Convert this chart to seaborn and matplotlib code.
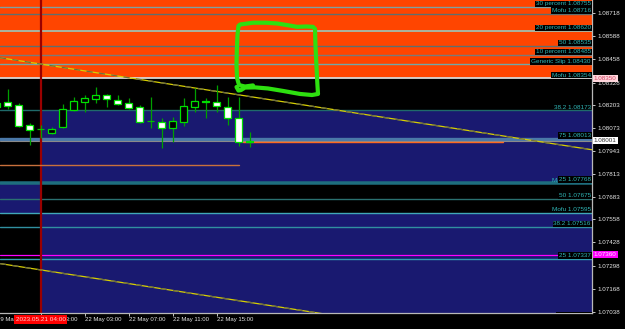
import matplotlib
matplotlib.use("Agg")
import matplotlib.pyplot as plt
from matplotlib.transforms import blended_transform_factory as btf
import numpy as np
import pandas as pd
import seaborn as sns

# ---------------- data ----------------
bar_index = list(range(-4, 20))
opens  = [1.08213, 1.08219, 1.08202, 1.08087, 1.08066, 1.08046, 1.08076, 1.08174, 1.08220, 1.08237,
          1.08256, 1.08230, 1.08211, 1.08188, 1.08110, 1.08106, 1.08071, 1.08104, 1.08193, 1.08226,
          1.08221, 1.08193, 1.08126, 1.07992]
highs  = [1.08224, 1.08292, 1.08211, 1.08100, 1.08089, 1.08080, 1.08206, 1.08247, 1.08258, 1.08305,
          1.08262, 1.08258, 1.08239, 1.08202, 1.08247, 1.08131, 1.08133, 1.08239, 1.08296, 1.08239,
          1.08316, 1.08247, 1.08249, 1.08050]
lows   = [1.08174, 1.08179, 1.08080, 1.07977, 1.08016, 1.08038, 1.08071, 1.08168, 1.08164, 1.08211,
          1.08192, 1.08202, 1.08178, 1.08099, 1.08075, 1.07958, 1.07991, 1.08085, 1.08162, 1.08127,
          1.08164, 1.08089, 1.07971, 1.07965]
closes = [1.08190, 1.08196, 1.08085, 1.08063, 1.08065, 1.08065, 1.08178, 1.08224, 1.08239, 1.08256,
          1.08234, 1.08209, 1.08187, 1.08104, 1.08110, 1.08071, 1.08111, 1.08194, 1.08223, 1.08217,
          1.08196, 1.08126, 1.07991, 1.08001]

time_tick_pos = [-4, 0, 4, 8, 12, 16]
time_tick_labels = ["19 May 20:00", "21 May 23:00", "22 May 03:00", "22 May 07:00",
                    "22 May 11:00", "22 May 15:00"]
crosshair_label = "2023.05.21 04:00"

price_tick_labels = ["1.08718", "1.08588", "1.08458", "1.08328", "1.08203", "1.08073", "1.07943",
                     "1.07813", "1.07683", "1.07558", "1.07428", "1.07298", "1.07168", "1.07038"]

level_names  = ["30 percent", "Mofu", "20 percent", "50", "10 percent", "Generic Slip", "Mofu",
                "38.2", "75", "Mofu", "25", "50", "Mofu", "38.2", "25", "0.0"]
level_prices = [1.08755, 1.08716, 1.08620, 1.08535, 1.08485, 1.08430, 1.08354,
                1.08173, 1.08013, 1.07760, 1.07768, 1.07675, 1.07595, 1.07516, 1.07337, 1.07000]

bid_price = 1.08001
ask_box_price = 1.08350
magenta_price = 1.07360

# zone rectangles: (x_start, x_end, price_low, price_high)
zone_orange = (-3.7, 50.2, 1.08354, 1.08800)
zones_navy = [(0, 50.2, 1.07768, 1.08173), (0, 50.2, 1.07000, 1.07595), (-3.7, 0, 1.07595, 1.07768)]

trend_upper_x = [-3.7, 50.1]
trend_upper_y = [1.08468, 1.07950]
trend_lower_x = [-3.7, 50.1]
trend_lower_y = [1.07309, 1.06791]

orange_seg1_x = [-3.7, 18.05]
orange_seg1_y = [1.07864, 1.07864]
orange_seg2_x = [18.4, 42.0]
orange_seg2_y = [1.07992, 1.07992]

sketch_x = [19.30, 18.57, 18.03, 17.85, 17.80, 17.83, 17.89, 17.98, 18.12, 19.30, 20.48, 21.48,
            22.66, 23.30, 24.12, 24.75, 24.94, 24.98, 25.07, 25.16, 25.21, 24.66, 23.57, 22.03,
            20.66, 19.48, 18.57, 18.21, 17.98, 17.80]
sketch_y = [1.08312, 1.08306, 1.08314, 1.08354, 1.08427, 1.08511, 1.08596, 1.08647, 1.08655,
            1.08665, 1.08665, 1.08661, 1.08649, 1.08642, 1.08644, 1.08642, 1.08630, 1.08540,
            1.08421, 1.08314, 1.08264, 1.08258, 1.08264, 1.08281, 1.08295, 1.08301, 1.08300,
            1.08286, 1.08283, 1.08303]

XLIM = (-3.7, 50.12)
YLIM = (1.07029, 1.08793)

# ---------------- style ----------------
sns.set_theme(style="dark")
plt.rcParams["font.family"] = ["Liberation Sans", "DejaVu Sans"]

W, H = 625, 329
fig = plt.figure(figsize=(W / 100, H / 100), dpi=100, facecolor="black")
ax = fig.add_axes([0, (H - 313.3) / H, 592 / W, 313.3 / H])
ax.set_facecolor("black")
ax.set_xlim(*XLIM)
ax.set_ylim(*YLIM)

# zones
x0, x1, lo, hi = zone_orange
ax.fill_between([x0, x1], lo, hi, color="#ff4500", lw=0, zorder=0)
for (x0, x1, lo, hi) in zones_navy:
    ax.fill_between([x0, x1], lo, hi, color="#191970", lw=0, zorder=0)

# level lines
level_colors = ["#7fa0a0", "#5f6f6f", "#a8b4a0", "#5f6f6f", "#7a7a7a", "#70a8a8", "#d8d8d8",
                "#1f6a6a", "#4a78a8", "#1e6e7e", "#1e6e7e", "#2a7070", "#40a8b8", "#3090a0",
                "#30a0b0", "#30a0b0"]
level_widths = [1.0, 1.0, 1.4, 1.0, 1.0, 1.0, 1.3, 1.0, 2.4, 1.8, 1.8, 1.0, 1.0, 1.0, 1.0, 1.0]
for p, c, w in zip(level_prices, level_colors, level_widths):
    ax.axhline(p, color=c, lw=w, zorder=1)
ax.axhline(bid_price, color="#8a8a8a", lw=0.8, zorder=1)
ax.axhline(magenta_price, color="#ff00ff", lw=0.9, zorder=1)

# red vertical line
ax.axvline(0, color="#9a0000", lw=1.6, zorder=2)

# trend lines (seaborn)
for tx, ty in [(trend_upper_x, trend_upper_y), (trend_lower_x, trend_lower_y)]:
    df = pd.DataFrame({"t": tx, "p": ty})
    sns.lineplot(data=df, x="t", y="p", ax=ax, color="#d8d000", lw=0.9, zorder=2, legend=False)
    ax.plot(tx, ty, color="#6e6e40", lw=0.9, dashes=(5, 5), zorder=2)

# orange segments
sns.lineplot(x=orange_seg1_x, y=orange_seg1_y, ax=ax, color="#c8703c", lw=1.0, zorder=2)
sns.lineplot(x=orange_seg2_x, y=orange_seg2_y, ax=ax, color="#ff6a20", lw=1.0, zorder=2)

# candles
bw = 0.62
for k, o, h, l, c in zip(bar_index, opens, highs, lows, closes):
    ax.vlines(k, l, h, color="#00a000", lw=0.9, zorder=3)
    if abs(c - o) < 0.00003:
        ax.hlines(o, k - bw / 2, k + bw / 2, color="#00c000", lw=0.9, zorder=4)
    else:
        fc = "black" if c > o else "white"
        ax.bar(k, abs(c - o), bottom=min(o, c), width=bw, facecolor=fc,
               edgecolor="#00e000", lw=0.9, zorder=4)

# level labels
tr = btf(ax.transAxes, ax.transData)
boxed = [True, True, True, True, True, True, True, False, True, False, True, True, False, True, True, True]
for name, p, b in zip(level_names, level_prices, boxed):
    kw = dict(facecolor="black", edgecolor="none", pad=0.6) if b else None
    ax.text(0.998, p + 0.00002, f"{name} {p:.5f}", transform=tr, ha="right", va="bottom",
            fontsize=4.6, color="#2fb5b5", bbox=kw, zorder=6, clip_on=True)

# hand-drawn sketch
ax.plot(sketch_x, sketch_y, color="#2ee010", lw=3.0, solid_capstyle="round",
        solid_joinstyle="round", zorder=7)

# axes styling
for s in ["top", "left"]:
    ax.spines[s].set_visible(False)
for s in ["right", "bottom"]:
    ax.spines[s].set_visible(True)
    ax.spines[s].set_color("#b8b8b8")
    ax.spines[s].set_linewidth(0.9)
ax.grid(False)
ax.set_xlabel("")
ax.set_ylabel("")

ax.yaxis.tick_right()
ax.set_yticks([float(s) for s in price_tick_labels])
ax.set_yticklabels(price_tick_labels)
ax.tick_params(axis="y", colors="#e6e6e6", labelsize=4.5, length=2, width=0.6, pad=2,
               right=True, left=False)
ax.set_xticks(time_tick_pos)
ax.set_xticklabels([""] * len(time_tick_pos))
ax.tick_params(axis="x", colors="#e6e6e6", length=2, width=0.6, bottom=True)

ax.set_xlim(*XLIM)
ax.set_ylim(*YLIM)
ax.margins(0)

# time labels (drawn as text so the partly hidden first one shows too)
trx = btf(ax.transData, fig.transFigure)
for pos, lab in zip(time_tick_pos, time_tick_labels):
    ax.text(pos + 0.05, (H - 320) / H, lab, transform=trx, ha="left", va="center",
            fontsize=4.3, color="#e6e6e6", clip_on=False, zorder=8)

# price boxes on axis
ax.text(1.003, ask_box_price, f"{ask_box_price:.5f}", transform=tr, ha="left", va="center",
        fontsize=4.5, color="#d04060", clip_on=False, zorder=8,
        bbox=dict(facecolor="#ffd6dc", edgecolor="none", pad=0.8))
ax.text(1.003, bid_price, f"{bid_price:.5f}", transform=tr, ha="left", va="center",
        fontsize=4.5, color="#303030", clip_on=False, zorder=8,
        bbox=dict(facecolor="white", edgecolor="none", pad=0.8))
ax.text(1.003, magenta_price, f"{magenta_price:.5f}", transform=tr, ha="left", va="center",
        fontsize=4.5, color="#ffe8ff", clip_on=False, zorder=8,
        bbox=dict(facecolor="#ff00ff", edgecolor="none", pad=0.8))

# crosshair time box
ax.text(0, (H - 319.5) / H, crosshair_label, transform=trx, ha="center", va="center",
        fontsize=4.6, color="#ffd0d0", clip_on=False, zorder=9,
        bbox=dict(facecolor="#ff0000", edgecolor="none", pad=1.2))

fig.savefig("out.png", dpi=100, facecolor="black")
